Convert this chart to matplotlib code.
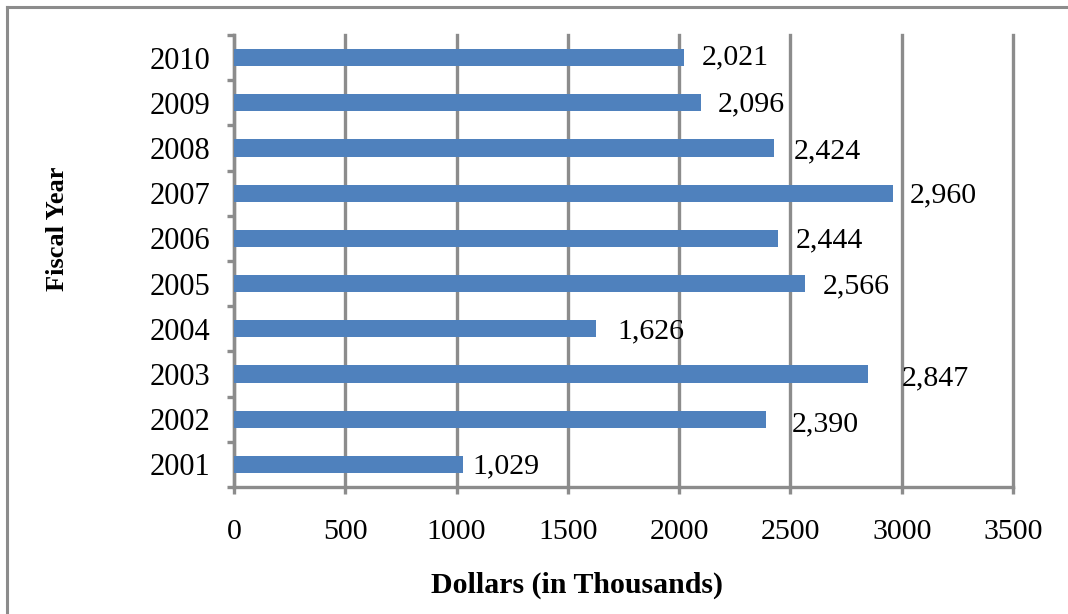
import matplotlib.pyplot as plt
from matplotlib.lines import Line2D

anos = ["2001", "2002", "2003", "2004", "2005", "2006", "2007", "2008", "2009", "2010"]
valores = [1029, 2390, 2847, 1626, 2566, 2444, 2960, 2424, 2096, 2021]
rotulos = ["1,029", "2,390", "2,847", "1,626", "2,566", "2,444", "2,960", "2,424", "2,096", "2,021"]
xticks = [0, 500, 1000, 1500, 2000, 2500, 3000, 3500]

# deslocamento dos rotulos (pixels), como foram ajustados no original
desloc_x = [9, 26, 34, 21, 18, 18, 17, 20, 17, 18]
desloc_y = [-2, -5, -4, -3, -3, -2, -2, -3, -2, 0]

cinza = "#8c8c8c"
azul = "#4f81bd"

plt.rcParams["font.family"] = ["Liberation Serif", "DejaVu Serif"]

fig = plt.figure(figsize=(10.68, 6.14), dpi=100)
ax = fig.add_axes([0.2191, 0.2068, 0.7294, 0.7362])

pos = list(range(len(anos)))
ax.barh(pos, valores, height=0.38, color=azul, zorder=3)

for i in pos:
    ax.annotate(rotulos[i], xy=(valores[i], i), xytext=(desloc_x[i], desloc_y[i]),
                textcoords="offset pixels", ha="left", va="center", fontsize=21.5)

ax.set_xlim(0, 3500)
ax.set_ylim(-0.5, len(anos) - 0.5)
ax.set_xticks(xticks)
ax.set_xticklabels([str(v) for v in xticks], fontsize=21.5)
ax.set_yticks(pos)
ax.set_yticklabels(anos, fontsize=22)
ax.set_yticks([p - 0.5 for p in pos] + [len(anos) - 0.5], minor=True)

ax.grid(axis="x", color=cinza, linewidth=2.4, zorder=0)
for g in ax.get_xgridlines():
    g.set_clip_on(False)
ax.tick_params(axis="y", which="major", length=0, pad=17)
ax.tick_params(axis="y", which="minor", length=5, width=2.4, color=cinza, direction="out")
ax.tick_params(axis="x", length=5, width=2.4, color=cinza, pad=18)

for lado in ["top", "right"]:
    ax.spines[lado].set_visible(False)
for lado in ["left", "bottom"]:
    ax.spines[lado].set_color(cinza)
    ax.spines[lado].set_linewidth(2.4)

fig.text(0.0534, 0.628, "Fiscal Year", rotation=90, ha="center", va="center",
         fontsize=19, fontweight="bold")
fig.text(0.540, 0.047, "Dollars (in Thousands)", ha="center", va="center",
         fontsize=21.5, fontweight="bold")

# moldura do grafico (so topo e lado esquerdo aparecem no original)
fig.add_artist(Line2D([0.0066, 1.0], [0.9886, 0.9886], color=cinza, linewidth=2.2))
fig.add_artist(Line2D([0.0066, 0.0066], [0.0, 0.9886], color=cinza, linewidth=2.2))

fig.savefig("out.png", dpi=100)
